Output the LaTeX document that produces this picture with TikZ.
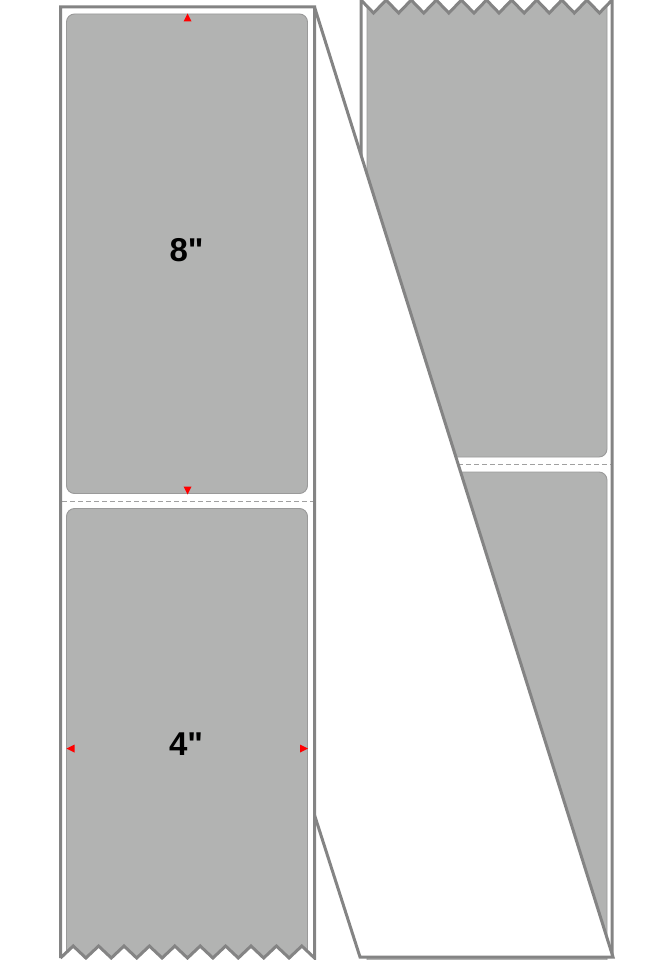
\documentclass[tikz,border=0pt]{standalone}
\usepackage{fontspec}
\newfontfamily\labfont{Liberation Sans}
\definecolor{edge}{HTML}{848484}
\definecolor{lbl}{HTML}{B2B3B2}
\definecolor{lbledge}{HTML}{9A9A9A}
\definecolor{perfc}{HTML}{A0A0A0}
\tikzset{
 outline/.style={draw=edge, line width=3pt, line join=miter},
 labelbox/.style={fill=lbl, draw=lbledge, line width=0.9pt, rounded corners=8pt},
 perfline/.style={draw=perfc, line width=0.8pt, dash pattern=on 5pt off 3pt},
 tri/.style={fill=red, draw=none},
 dimtext/.style={font=\labfont\bfseries\fontsize{33}{33}\selectfont, text=black, inner sep=0pt}
}
\begin{document}
\begin{tikzpicture}[x=1pt,y=-1pt]
\useasboundingbox (0,0) rectangle (660,960);
% ---------- right strip ----------
\begin{scope}
\clip (361,0) \foreach \k in {0,...,9} { -- ({361+25.1*\k+12.55},13) -- ({361+25.1*(\k+1)},0) } -- (612,960) -- (361,960) -- cycle;
\fill[white] (361,0) rectangle (612,960);
\path[labelbox] (367,-20) rectangle (607,457);
\path[labelbox] (367,472) rectangle (607,990);
\end{scope}
\draw[perfline] (362,464) -- (611,464);
\draw[outline] (361,957) -- (361,0) \foreach \k in {0,...,9} { -- ({361+25.1*\k+12.55},13) -- ({361+25.1*(\k+1)},0) } -- (612,957);
% ---------- folded sheet ----------
\fill[white] (314.5,7) -- (613,957) -- (360,957) -- (314.5,815) -- cycle;
\draw[outline] (314.5,7) -- (613,957) -- (360,957) -- (314.5,815);
% ---------- left strip ----------
\begin{scope}
\clip (60.5,7) -- (314.5,7) -- (314.5,958) \foreach \k in {9,...,0} { -- ({60.5+25.4*\k+12.7},946) -- ({60.5+25.4*\k},958) } -- cycle;
\fill[white] (60.5,7) rectangle (314.5,960);
\path[labelbox] (66.5,14) rectangle (307.5,493.5);
\path[labelbox] (66.5,508.5) rectangle (307.5,990);
\end{scope}
\draw[perfline] (62,501.5) -- (313,501.5);
\draw[outline] (60.5,958) -- (60.5,7) -- (314.5,7) -- (314.5,958) \foreach \k in {9,...,0} { -- ({60.5+25.4*\k+12.7},946) -- ({60.5+25.4*\k},958) };
% ---------- dimension markers ----------
\fill[tri] (187.5,13.5) -- (191.5,21.5) -- (183.5,21.5) -- cycle;
\fill[tri] (187.5,494.5) -- (191.5,486.5) -- (183.5,486.5) -- cycle;
\fill[tri] (66.5,748.5) -- (74.5,744.5) -- (74.5,752.5) -- cycle;
\fill[tri] (308,748.5) -- (300,744.5) -- (300,752.5) -- cycle;
\node[dimtext] (dimH) at (186.5,250.5) {8"};
\node[dimtext] (dimW) at (186,744.5) {4"};
\end{tikzpicture}
\end{document}
